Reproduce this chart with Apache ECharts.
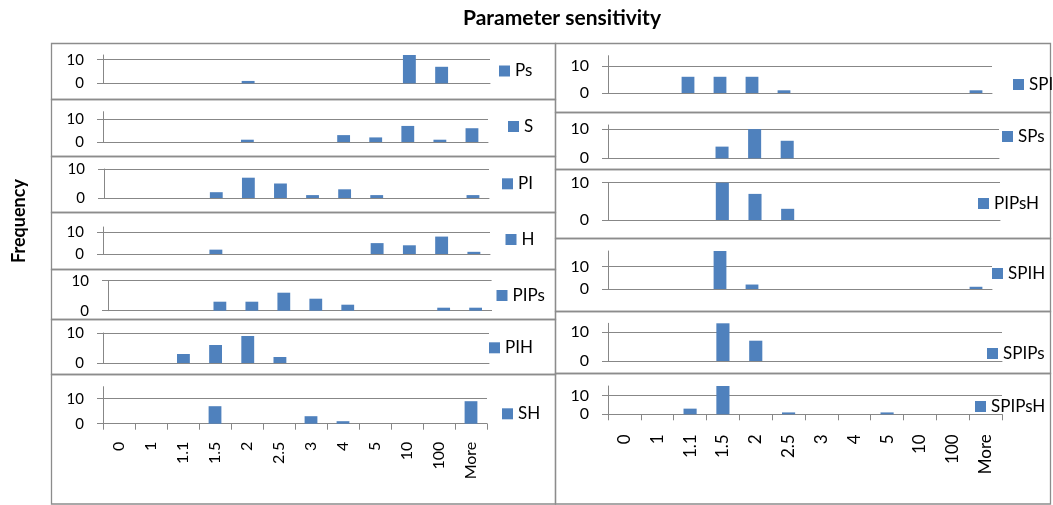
<!DOCTYPE html>
<html><head><meta charset="utf-8">
<script src="https://cdn.jsdelivr.net/npm/echarts@6/dist/echarts.min.js"></script>
<style>html,body{margin:0;padding:0;background:#fff}#c{width:1053px;height:505px}</style>
</head><body><div id="c"></div>
<script>
// ---------- data ----------
const categories = ['0','1','1.1','1.5','2','2.5','3','4','5','10','100','More'];
const seriesNames = ['Ps','S','PI','H','PIPs','PIH','SH','SPI','SPs','PIPsH','SPIH','SPIPs','SPIPsH'];
const Ps     = [0,0,0,0,1,0,0,0,0,12,7,0];
const S      = [0,0,0,0,1,0,0,3,2,7,1,6];
const PI     = [0,0,0,2,7,5,1,3,1,0,0,1];
const H      = [0,0,0,2,0,0,0,0,5,4,8,1];
const PIPs   = [0,0,0,3,3,6,4,2,0,0,1,1];
const PIH    = [0,0,3,6,9,2,0,0,0,0,0,0];
const SH     = [0,0,0,7,0,0,3,1,0,0,0,9];
const SPI    = [0,0,6,6,6,1,0,0,0,0,0,1];
const SPs    = [0,0,0,4,10,6,0,0,0,0,0,0];
const PIPsH  = [0,0,0,10,7,3,0,0,0,0,0,0];
const SPIH   = [0,0,0,17,2,0,0,0,0,0,0,1];
const SPIPs  = [0,0,0,13,7,0,0,0,0,0,0,0];
const SPIPsH = [0,0,3,15,0,1,0,0,1,0,0,0];
const seriesValues = [Ps,S,PI,H,PIPs,PIH,SH,SPI,SPs,PIPsH,SPIH,SPIPs,SPIPsH];
const yTickValues = [0, 10];
const yAxisMax = [12, 13.2, 10, 12.4, 10, 10, 14.8, 13.8, 11.4, 10, 17, 13, 15];
const titleText = 'Parameter sensitivity';
const yTitleText = 'Frequency';

// ---------- layout (pixels) ----------
const layout = [
  {x0:103, x1:490, yTop:55,    y0:83.3,  leg:[499,71.5], bottom:false, col:0},
  {x0:103, x1:488, yTop:111.7, y0:142,   leg:[508,127],  bottom:false, col:0},
  {x0:104, x1:489, yTop:169,   y0:198,   leg:[502,184.3],bottom:false, col:0},
  {x0:103, x1:490, yTop:227,   y0:254,   leg:[505.5,240],bottom:false, col:0},
  {x0:108, x1:491.6,yTop:280.7,y0:310.7, leg:[496.5,296],bottom:false, col:0},
  {x0:103, x1:489, yTop:333,   y0:363,   leg:[489,348.3],bottom:false, col:0},
  {x0:103, x1:487, yTop:386.7, y0:423.7, leg:[502,414.3],bottom:true,  col:0},
  {x0:608, x1:992, yTop:55.7,  y0:93,    leg:[1013,85],  bottom:false, col:1},
  {x0:608, x1:999, yTop:125,   y0:158.3, leg:[1002,137], bottom:false, col:1},
  {x0:608, x1:1000,yTop:182.7, y0:220,   leg:[978,204],  bottom:false, col:1},
  {x0:608, x1:992, yTop:251,   y0:289,   leg:[992,274],  bottom:false, col:1},
  {x0:608, x1:1002,yTop:323.3, y0:361,   leg:[987,354],  bottom:false, col:1},
  {x0:608, x1:1002,yTop:386,   y0:414.3, leg:[975,407],  bottom:true,  col:1}
];
const leftBounds  = [43, 99, 156, 212, 269, 319, 374, 503.5];
const rightBounds = [43, 112, 169, 238, 311, 373, 503.5];
const colX = [[51.5, 555.5], [555.5, 1050.5]];

const FONT = 'Lato, "Open Sans", sans-serif';
const GRAY = '#878787';
const BLUE = '#4F81BD';

const grids = [], xAxes = [], yAxes = [], series = [], legends = [];
layout.forEach((p, i) => {
  const labelSize = p.col === 0 ? 15 : 16;
  grids.push({left: p.x0, top: p.yTop, width: p.x1 - p.x0, height: p.y0 - p.yTop,
              containLabel: false, outerBoundsMode: 'none'});
  xAxes.push({
    type: 'category', gridIndex: i, data: categories,
    axisLine: {show: true, lineStyle: {color: GRAY, width: 1}},
    axisTick: {show: p.bottom, length: 6, lineStyle: {color: GRAY}},
    axisLabel: {show: p.bottom, rotate: 90, interval: 0, fontSize: p.col === 0 ? 16 : 17,
                color: '#000', fontFamily: FONT, margin: p.col === 0 ? 18 : 20},
    splitLine: {show: false}
  });
  yAxes.push({
    type: 'value', gridIndex: i, min: 0, max: yAxisMax[i], interval: 10,
    axisLine: {show: true, lineStyle: {color: GRAY, width: 1}},
    axisTick: {show: true, length: 6, customValues: yTickValues, lineStyle: {color: GRAY}},
    axisLabel: {show: true, customValues: yTickValues,
                fontSize: labelSize, color: '#000', fontFamily: FONT, margin: 19},
    splitLine: {show: true, lineStyle: {color: GRAY, width: 1}}
  });
  series.push({
    type: 'bar', name: seriesNames[i], xAxisIndex: i, yAxisIndex: i,
    data: seriesValues[i], barWidth: '40%', itemStyle: {color: BLUE}, clip: false
  });
  legends.push({
    data: [seriesNames[i]], left: p.leg[0], top: p.leg[1] - 9, padding: 0,
    itemWidth: 11, itemHeight: 11, icon: 'rect', selectedMode: false,
    textStyle: {fontSize: 17, color: '#000', fontFamily: FONT}
  });
});

const graphics = [];
function addFrames(bounds, xs) {
  for (let k = 0; k < bounds.length - 1; k++) {
    graphics.push({type: 'rect', silent: true, z: -1,
      shape: {x: xs[0], y: bounds[k] + 0.5, width: xs[1] - xs[0], height: bounds[k+1] - bounds[k]},
      style: {fill: null, stroke: '#8c8c8c', lineWidth: 1.3}});
  }
}
addFrames(leftBounds, colX[0]);
addFrames(rightBounds, colX[1]);
graphics.push({type: 'text', x: 562, y: 18,
  style: {text: titleText, font: 'bold 21px ' + FONT, fill: '#000', align: 'center', verticalAlign: 'middle'}});
graphics.push({type: 'text', x: 19, y: 221, rotation: Math.PI / 2,
  style: {text: yTitleText, font: 'bold 18px ' + FONT, fill: '#000', align: 'center', verticalAlign: 'middle'}});

const chart = echarts.init(document.getElementById('c'), null, {renderer: 'canvas'});
chart.setOption({
  animation: false,
  backgroundColor: '#fff',
  grid: grids, xAxis: xAxes, yAxis: yAxes, series: series, legend: legends,
  graphic: graphics
});
</script></body></html>
